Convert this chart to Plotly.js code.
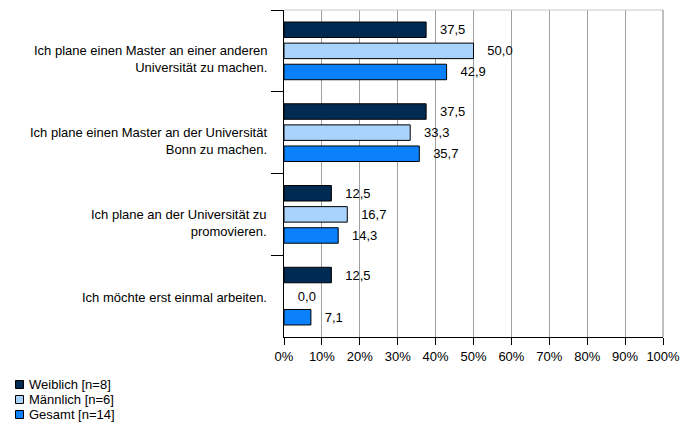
<!DOCTYPE html>
<html>
<head>
<meta charset="utf-8">
<script src="https://cdn.plot.ly/plotly-3.0.1.min.js"></script>
<style>html,body{margin:0;padding:0;background:#fff;}#chart{width:682px;height:428px;}</style>
</head>
<body>
<div id="chart"></div>
<script>
const categories = [
  "Ich plane einen Master an einer anderen<br>Universität zu machen.",
  "Ich plane einen Master an der Universität<br>Bonn zu machen.",
  "Ich plane an der Universität zu<br>promovieren.",
  "Ich möchte erst einmal arbeiten."
];
const seriesNames = ["Weiblich [n=8]", "Männlich [n=6]", "Gesamt [n=14]"];
const weiblich = [37.5, 37.5, 12.5, 12.5];
const maennlich = [50.0, 33.3, 16.7, 0.0];
const gesamt = [42.9, 35.7, 14.3, 7.1];
const seriesValues = [weiblich, maennlich, gesamt];
const colors = ["#012a52", "#a9d3fb", "#0a80fb"];
const xTicks = [0,10,20,30,40,50,60,70,80,90,100];

const W = 682, H = 428;
const M = {l: 284, r: 19, t: 10, b: 91};
const plotW = W - M.l - M.r, plotH = H - M.t - M.b;
const px2paperX = px => (px - M.l) / plotW;
const px2paperY = py => (H - M.b - py) / plotH;

const font = "Liberation Sans, Arial, sans-serif";
const pad = "\u00a0\u00a0\u00a0";
const traces = seriesValues.map((vals, i) => ({
  type: "bar", orientation: "h",
  x: vals, y: categories,
  name: seriesNames[i],
  marker: {color: colors[i], line: {color: "#000", width: vals.map(v => v > 0 ? 1 : 0)}},
  text: vals.map(v => pad + v.toFixed(1).replace(".", ",")),
  textposition: "outside",
  constraintext: "none",
  cliponaxis: false,
  textfont: {family: font, size: 13, color: "#000"},
  showlegend: false,
  hoverinfo: "skip"
}));

const annotations = categories.map(c => {
  const lines = c.split("<br>").length;
  return {
    xref: "paper", yref: "y", x: 0, y: c,
    xanchor: "right", yanchor: "middle", align: "right",
    xshift: -15, yshift: -(lines - 1) * 7.5 - 1,
    text: c, showarrow: false,
    font: {family: font, size: 13, color: "#000"}
  };
});

const shapes = [
  {type: "line", xref: "paper", yref: "paper", x0: 0, x1: 1, y0: 1, y1: 1, line: {color: "#c8c8c8", width: 1}},
  {type: "line", xref: "paper", yref: "paper", x0: 1, x1: 1, y0: 0, y1: 1, line: {color: "#808080", width: 1}}
];
const legendRowY = [384.5, 399.5, 414.5];
seriesNames.forEach((n, i) => {
  const cy = legendRowY[i];
  shapes.push({
    type: "rect", xref: "paper", yref: "paper",
    x0: px2paperX(15.5), x1: px2paperX(23.5),
    y0: px2paperY(cy - 4), y1: px2paperY(cy + 4),
    fillcolor: colors[i], line: {color: "#000", width: 1}
  });
  annotations.push({
    xref: "paper", yref: "paper", x: px2paperX(27), y: px2paperY(cy),
    xanchor: "left", yanchor: "middle", text: n, showarrow: false,
    font: {family: font, size: 13, color: "#000"}
  });
});

const layout = {
  width: W, height: H,
  margin: M,
  paper_bgcolor: "#fff", plot_bgcolor: "#fff",
  font: {family: font, size: 13, color: "#000"},
  barmode: "group",
  bargap: 0.226,
  bargroupgap: 0.265,
  showlegend: false,
  xaxis: {
    range: [0, 100], tickvals: xTicks, ticktext: xTicks.map(t => t + "%"),
    showgrid: true, gridcolor: "#a0a0a0", gridwidth: 1,
    zeroline: false,
    showline: true, linecolor: "#000", linewidth: 1,
    ticks: "outside", ticklen: 7, tickcolor: "#000",
    tickfont: {family: font, size: 13, color: "#000"},
    fixedrange: true
  },
  yaxis: {
    type: "category", autorange: "reversed",
    tickson: "boundaries",
    ticks: "outside", ticklen: 12, tickcolor: "#000",
    showticklabels: false,
    showline: true, linecolor: "#000", linewidth: 1,
    showgrid: false, zeroline: false,
    fixedrange: true
  },
  annotations: annotations,
  shapes: shapes
};

Plotly.newPlot("chart", traces, layout, {displayModeBar: false, staticPlot: true});
</script>
</body>
</html>
